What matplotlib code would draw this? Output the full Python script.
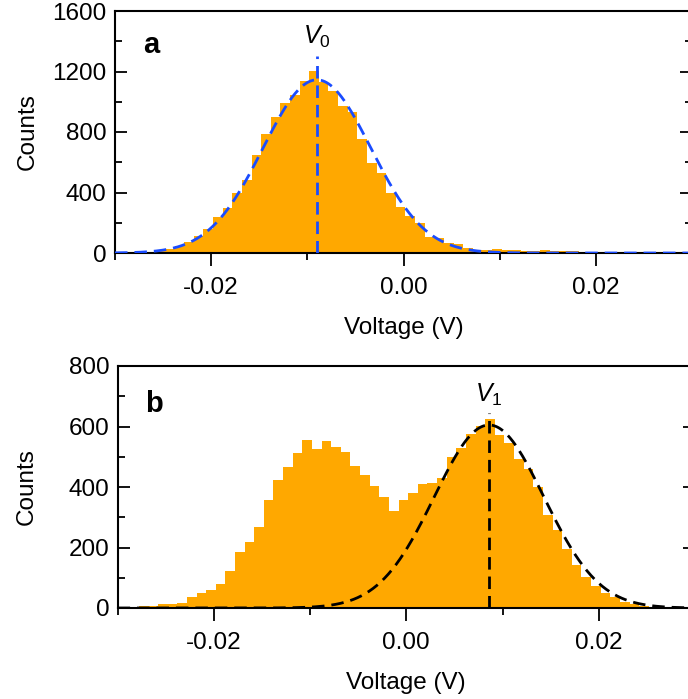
import numpy as np
import matplotlib
matplotlib.use("Agg")
import matplotlib.pyplot as plt
from matplotlib.ticker import MultipleLocator, FixedLocator

plt.rcParams['font.family'] = ['Liberation Sans', 'DejaVu Sans']
plt.rcParams['mathtext.fontset'] = 'custom'
plt.rcParams['mathtext.rm'] = 'Liberation Sans'
plt.rcParams['mathtext.it'] = 'Liberation Sans:italic'

# ---- data ----
bin_start = -0.0298
bin_width = 0.001
counts_a = [2, 4, 7, 9, 18, 24, 46, 73, 112, 161,
            240, 300, 394, 480, 650, 789, 901, 994, 1042, 1137,
            1205, 1128, 1073, 974, 934, 751, 593, 531, 394, 306,
            247, 196, 108, 101, 68, 59, 31, 20, 22, 24,
            18, 20, 14, 12, 18, 10, 14, 12, 0, 0,
            0, 0, 0, 0, 0, 0, 0, 0, 0, 0]
counts_b = [0, 2, 5, 7, 14, 13, 17, 35, 50, 60,
            80, 123, 186, 217, 269, 356, 423, 465, 511, 554,
            526, 553, 533, 515, 470, 439, 403, 366, 322, 357,
            380, 409, 414, 430, 498, 528, 574, 602, 624, 573,
            544, 493, 458, 401, 307, 258, 195, 143, 101, 74,
            51, 35, 20, 12, 7, 4, 2, 1, 0, 0]
# Gaussian fit parameters (amplitude, centre, width)
fit_a = (1145, -0.0090, 0.0056)
fit_b = (605, 0.0086, 0.0057)
V0 = -0.0090
V1 = 0.0086
xlim = (-0.030, 0.030)
xticks = [-0.02, 0.00, 0.02]
xtick_labels = ['-0.02', '0.00', '0.02']

orange = '#FFA800'
blue = '#1A4CFF'
dash = (0, (4.5, 2.5))

fig = plt.figure(figsize=(6.88, 6.99), dpi=100)
ax_a = fig.add_axes([115/688, (699-253)/699, 577/688, 242/699])
ax_b = fig.add_axes([117.6/688, (699-608)/699, 577.4/688, 242/699])

def style(ax, ymax, ymaj, ymin_step, ylab_x):
    ax.set_xlim(*xlim)
    ax.set_ylim(0, ymax)
    ax.xaxis.set_major_locator(FixedLocator(xticks))
    ax.set_xticklabels(xtick_labels)
    ax.xaxis.set_minor_locator(MultipleLocator(0.01))
    ax.yaxis.set_major_locator(MultipleLocator(ymaj))
    ax.yaxis.set_minor_locator(MultipleLocator(ymin_step))
    for s in ax.spines.values():
        s.set_linewidth(1.5)
    ax.tick_params(axis='x', which='major', direction='out', length=9, width=1.3,
                   labelsize=17.5, pad=8, top=False)
    ax.tick_params(axis='x', which='minor', direction='out', length=5, width=1.3, top=False)
    ax.tick_params(axis='y', which='major', direction='in', length=8.5, width=1.3,
                   labelsize=17.5, pad=6, right=True)
    ax.tick_params(axis='y', which='minor', direction='in', length=5, width=1.3, right=True)
    ax.set_xlabel('Voltage (V)', fontsize=17.5, labelpad=13)
    ax.set_ylabel('Counts', fontsize=17.5)
    ax.yaxis.set_label_coords(ylab_x, 0.5)

edges = bin_start + bin_width * np.arange(len(counts_a) + 1)
xs = np.linspace(xlim[0], xlim[1], 600)

# panel a
ax_a.stairs(counts_a, edges, fill=True, color=orange, zorder=1)
A, mu, sg = fit_a
ax_a.plot(xs, A * np.exp(-0.5 * ((xs - mu) / sg) ** 2), color=blue, lw=2.0,
          linestyle=dash, zorder=3)
ax_a.plot([V0, V0], [0, 1300], color=blue, lw=2.0, linestyle=dash, zorder=3)
ax_a.text(V0, 1340, r'$V_0$', fontsize=18, ha='center', va='bottom')
ax_a.text(0.048, 0.86, 'a', transform=ax_a.transAxes, fontsize=21, fontweight='bold',
          ha='left', va='center')
style(ax_a, 1600, 400, 200, -0.133)

# panel b
ax_b.stairs(counts_b, edges, fill=True, color=orange, zorder=1)
A, mu, sg = fit_b
ax_b.plot(xs, A * np.exp(-0.5 * ((xs - mu) / sg) ** 2), color='black', lw=2.0,
          linestyle=dash, zorder=3)
ax_b.plot([V1, V1], [0, 645], color='black', lw=2.0, linestyle=dash, zorder=3)
ax_b.text(V1, 660, r'$V_1$', fontsize=18, ha='center', va='bottom')
ax_b.text(0.048, 0.845, 'b', transform=ax_b.transAxes, fontsize=21, fontweight='bold',
          ha='left', va='center')
style(ax_b, 800, 200, 100, -0.138)

fig.savefig('out.png', dpi=100)
